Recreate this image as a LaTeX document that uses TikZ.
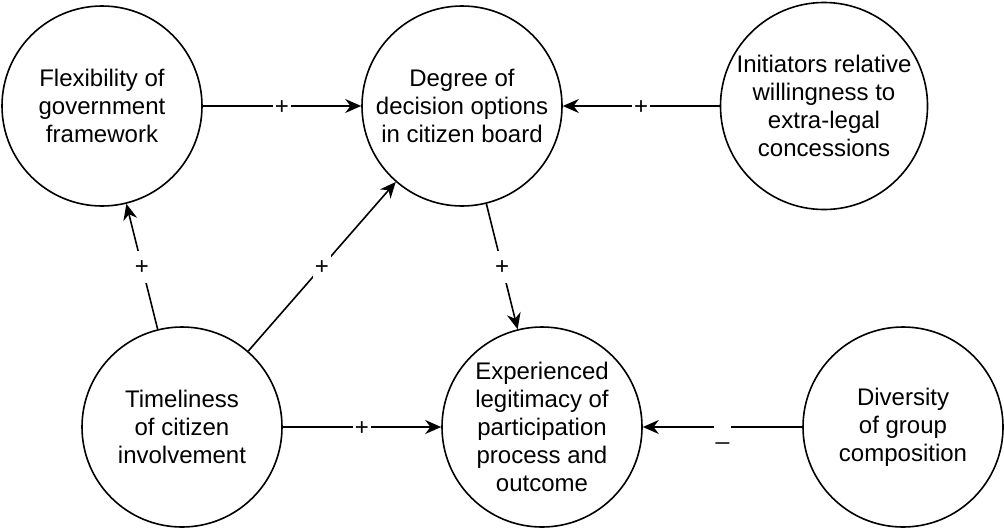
\documentclass[tikz,border=0pt]{standalone}
\usepackage{fontspec}
\setmainfont{Liberation Sans}
\usetikzlibrary{positioning,calc,arrows.meta}
\tikzset{font=\fontsize{12}{14}\selectfont}

\begin{document}
\begin{tikzpicture}[x=0.5pt, y=-0.5pt]
	\useasboundingbox (0, 0) rectangle (1004, 530);
	\begin{scope}[line width=0.8pt]
		\tikzstyle{every node}=[align=center, inner sep=1pt]
		\tikzstyle{var}=[circle, draw, minimum size=100pt]
		\tikzstyle{sgn}=[fill=white, text height=11pt, text depth=3pt]
		\node [var] (flex) at (102, 106) {Flexibility of\\government\\framework};
		\node [var] (deg) at (462, 106) {Degree of\\decision options\\in citizen board};
		\node [var] (init) at (824, 106) {Initiators relative\\willingness to\\extra-legal\\concessions};

		\node [var] (time) at (182, 427) {Timeliness\\of citizen\\involvement};
		\node [var] (legit) at (542, 427) {Experienced\\legitimacy of\\participation\\process and\\outcome};
		\node [var] (div) at (903, 427) {Diversity\\of group\\composition};

		\draw [->, >={Stealth[length=8pt, width=7pt]}] (flex) to node [sgn] {+} (deg);
		\draw [->, >={Stealth[length=8pt, width=7pt]}] (init) to node [sgn] {+} (deg);
		\draw [->, >={Stealth[length=8pt, width=7pt]}] (deg) to node [sgn] {+} (legit);
		\draw [->, >={Stealth[length=8pt, width=7pt]}] (time) to node [sgn] {+} (flex);
		\draw [->, >={Stealth[length=8pt, width=7pt]}] (time) to node [sgn] {+} (deg);
		\draw [->, >={Stealth[length=8pt, width=7pt]}] (time) to node [sgn] {+} (legit);
		\draw [->, >={Stealth[length=8pt, width=7pt]}] (div) to node [sgn, yshift=-2pt] {\_} (legit);
	\end{scope}
\end{tikzpicture}
\end{document}
